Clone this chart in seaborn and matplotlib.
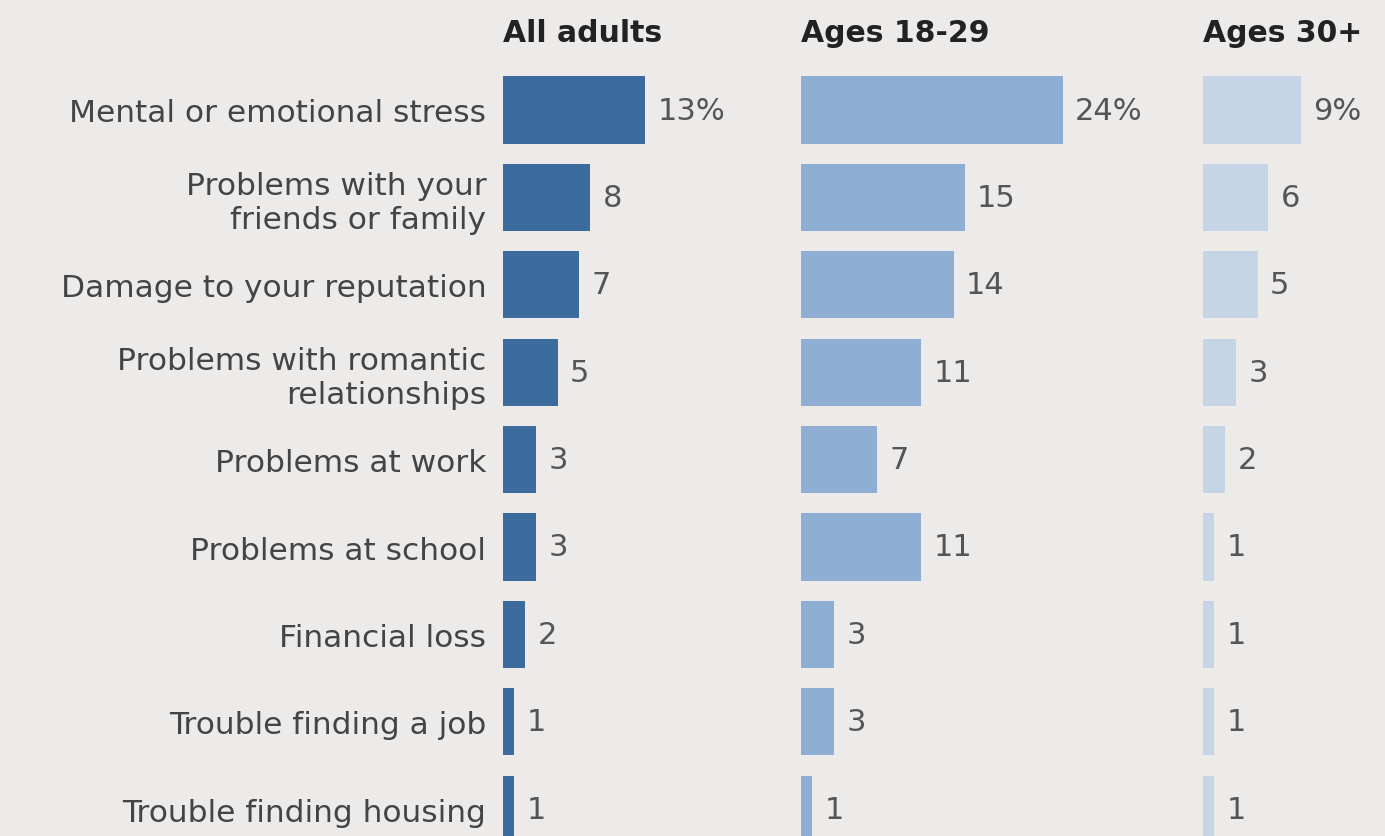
import matplotlib
matplotlib.use("Agg")
import matplotlib.pyplot as plt
import seaborn as sns
import pandas as pd

categories = [
    "Mental or emotional stress",
    "Problems with your\nfriends or family",
    "Damage to your reputation",
    "Problems with romantic\nrelationships",
    "Problems at work",
    "Problems at school",
    "Financial loss",
    "Trouble finding a job",
    "Trouble finding housing",
]
all_adults = [13, 8, 7, 5, 3, 3, 2, 1, 1]
ages_18_29 = [24, 15, 14, 11, 7, 11, 3, 3, 1]
ages_30_plus = [9, 6, 5, 3, 2, 1, 1, 1, 1]
groups = ["All adults", "Ages 18-29", "Ages 30+"]
series = [all_adults, ages_18_29, ages_30_plus]
colors = ["#3c6c9e", "#8eaed4", "#c5d5e6"]

BG = "#edebea"
W, H = 1385, 837
PX_PER_UNIT = 10.9
ROW_PX = 87.4

sns.set_theme(style="white")
plt.rcParams["font.family"] = ["DejaVu Sans"]

fig = plt.figure(figsize=(W / 100, H / 100), dpi=100)
fig.patch.set_facecolor(BG)

# panel left edges and widths in pixels
panels = [(503, 296), (801, 400), (1203, 182)]
top_px = 111 - ROW_PX / 2
bottom_px = H
ax_h_px = bottom_px - top_px

for i, (name, vals, col, (left, width)) in enumerate(zip(groups, series, colors, panels)):
    ax = fig.add_axes([left / W, 0, width / W, ax_h_px / H])
    df = pd.DataFrame({"category": categories, "value": vals})
    sns.barplot(data=df, x="value", y="category", ax=ax, color=col,
                saturation=1, width=0.77, orient="h", linewidth=0)
    ax.set_xlim(0, width / PX_PER_UNIT)
    ax.set_ylim(-0.5 + ax_h_px / ROW_PX, -0.5)
    ax.set_facecolor("none")
    for s in ax.spines.values():
        s.set_visible(False)
    ax.set_xticks([])
    ax.set_xlabel("")
    ax.set_ylabel("")
    labels = [f"{v}%" if j == 0 else f"{v}" for j, v in enumerate(vals)]
    ax.bar_label(ax.containers[0], labels=labels, padding=9,
                 fontsize=22, color="#555555")
    if i == 0:
        ax.tick_params(axis="y", length=0, pad=12, labelsize=22.5, labelcolor="#444444")
        for t in ax.get_yticklabels():
            t.set_multialignment("right")
            t.set_linespacing(1.2)
    else:
        ax.set_yticks([])
    fig.text(left / W, 1 - 33 / H, name, fontsize=21.5, fontweight="bold",
             color="#222222", ha="left", va="center")

fig.savefig("out.png", dpi=100, facecolor=BG)
